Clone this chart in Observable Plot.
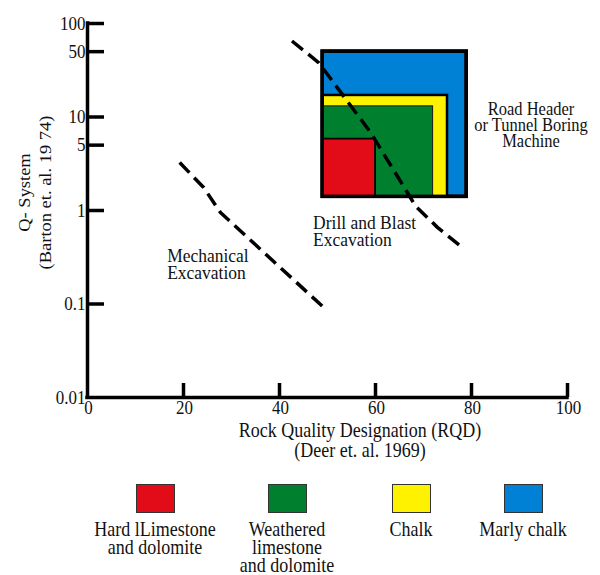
<!DOCTYPE html>
<html><head><meta charset="utf-8">
<script src="https://cdn.jsdelivr.net/npm/d3@7"></script>
<script src="https://cdn.jsdelivr.net/npm/@observablehq/plot@0.6"></script>
<style>
body{margin:0;background:#fff;}
#wrap{position:relative;width:600px;height:575px;font-family:"Liberation Serif","Times New Roman",serif;color:#111;}
#chart svg{display:block;}
#legend{position:relative;width:600px;height:105px;}
.item{position:absolute;top:0;width:170px;text-align:center;}
.sw{width:37px;height:27px;border:1px solid #333;margin:14px auto 0;}
.lab{margin-top:7px;font-size:18px;line-height:16px;white-space:pre-line;transform:scaleY(1.12);transform-origin:50% 0;}
</style></head><body>
<div id="wrap"><div id="chart"></div><div id="legend"></div></div>
<script>
// ---- data ----
const rockTypes = ["Marly chalk", "Chalk", "Weathered limestone and dolomite", "Hard lLimestone and dolomite"];
const rockColors = ["#0081d5", "#fff200", "#00802f", "#e20b18"];
const boxRQDmin = [49, 49, 49, 49];
const boxRQDmax = [79, 75, 72, 60];
const boxQmin = [1.4, 1.4, 1.4, 1.4];
const boxQmax = [50, 17, 13, 5.8];

const mechRQD = [19.2, 24.2, 27.7, 49.6];
const mechQ = [3.26, 1.76, 0.95, 0.088];
const drillRQD = [42.6, 48.2, 59, 67.3, 68.3, 72.9, 78.4];
const drillQ = [65, 38, 6.8, 1.37, 1.12, 0.66, 0.39];

const annoText = ["Mechanical\nExcavation", "Drill and Blast\nExcavation", "Road Header\nor Tunnel Boring\nMachine"];
const annoRQD = [16.6, 47.0, 92.4];
const annoQ = [0.262, 0.59, 8.1];

const xTickLabels = [0, 20, 40, 60, 80, 100];
const xTickMarks = [20, 40, 60, 80, 100];
const yTickLabels = [0.01, 0.1, 1, 5, 10, 50, 100];
const yTickMarks = [0.1, 1, 5, 10, 50, 100];

const xTitle = "Rock Quality Designation (RQD)\n(Deer et. al. 1969)";
const yTitle = "Q- System\n(Barton et. al. 19 74)";

const legendLabels = ["Hard lLimestone\nand dolomite", "Weathered\nlimestone\nand dolomite", "Chalk", "Marly chalk"];
const legendColors = ["#e20b18", "#00802f", "#fff200", "#0081d5"];

// ---- tables ----
const boxStroke = ["black", "black", "#1a1a1a", "black"];
const boxStrokeW = [3.5, 2.5, 1, 1.8];
const boxes = rockTypes.map((t, i) => ({type: t, color: rockColors[i], x1: boxRQDmin[i], x2: boxRQDmax[i], y1: boxQmin[i], y2: boxQmax[i], stroke: boxStroke[i], sw: boxStrokeW[i]}));
const mech = mechRQD.map((x, i) => ({x, y: mechQ[i]}));
const drill = drillRQD.map((x, i) => ({x, y: drillQ[i]}));
const annos = annoText.map((t, i) => ({text: t, x: annoRQD[i], y: annoQ[i]}));

// ---- layout ----
const W = 600, H = 470, mT = 23, mB = 73, mL = 87, mR = 33;
const frameH = H - mT - mB, frameW = W - mL - mR;
const S = 1.12; // vertical glyph stretch of the reference typeface
const dash = {stroke: "black", strokeWidth: 3.5, strokeDasharray: "14,7", strokeLinecap: "butt", curve: "linear"};

const chart = Plot.plot({
  width: W, height: H, marginTop: mT, marginBottom: mB, marginLeft: mL, marginRight: mR,
  style: {fontFamily: "Liberation Serif, Times New Roman, serif", fontSize: "17px", background: "white", color: "#111"},
  x: {domain: [0, 100], axis: null},
  y: {type: "log", domain: [0.01, 100], axis: null},
  color: {type: "identity"},
  marks: [
    Plot.rect(boxes, {x1: "x1", x2: "x2", y1: "y1", y2: "y2", fill: "color", stroke: "stroke", strokeWidth: "sw"}),
    Plot.rect(boxes.slice(0, 1), {x1: "x1", x2: "x2", y1: "y1", y2: "y2", fill: "none", stroke: "black", strokeWidth: 3.5}),
    Plot.line(mech, {x: "x", y: "y", ...dash}),
    Plot.line(drill, {x: "x", y: "y", ...dash}),
    Plot.text(annos.slice(0, 2), {x: "x", y: "y", text: "text", textAnchor: "start", lineAnchor: "middle", lineHeight: 0.9, fontSize: 17.5, fill: "#111"}),
    Plot.text(annos.slice(2), {x: "x", y: "y", text: "text", textAnchor: "middle", lineAnchor: "middle", lineHeight: 0.86, fontSize: 16.5, fill: "#111"}),
    Plot.ruleY([0.01], {x1: 0, x2: 100, stroke: "black", strokeWidth: 3.5, strokeLinecap: "square"}),
    Plot.ruleX([0], {y1: 0.01, y2: 100, stroke: "black", strokeWidth: 3.5, strokeLinecap: "square"}),
    Plot.tickX(xTickMarks, {x: d => d, insetTop: frameH - 14, stroke: "black", strokeWidth: 3.5}),
    Plot.tickY(yTickMarks, {y: d => d, insetRight: frameW - 17, stroke: "black", strokeWidth: 3.5}),
    Plot.text(xTickLabels, {x: d => d, text: d => String(d), frameAnchor: "bottom", lineAnchor: "top", dx: 1, dy: 3, fontSize: 17, fill: "#111"}),
    Plot.text(yTickLabels, {y: d => d, text: d => String(d), frameAnchor: "left", textAnchor: "end", lineAnchor: "middle", dx: -2, fontSize: 17, fill: "#111"}),
    Plot.text([xTitle], {text: d => d, frameAnchor: "bottom", dx: 32.5, dy: 43.3, fontSize: 18, lineHeight: 0.96, lineAnchor: "middle", textAnchor: "middle", fill: "#111"}),
    Plot.text([yTitle], {text: d => d, frameAnchor: "left", rotate: -90, dx: -53.75, dy: -18, fontSize: 16.5, lineHeight: 1.3, lineAnchor: "middle", textAnchor: "middle", fill: "#111"})
  ]
});
// stretch glyphs vertically (in screen space) like the reference's tall serif type
chart.querySelectorAll("text").forEach(t => {
  const tr = t.getAttribute("transform");
  if (!tr) return;
  t.setAttribute("transform", tr + (tr.includes("rotate") ? ` scale(${S},1)` : ` scale(1,${S})`));
});
document.getElementById("chart").appendChild(chart);

// ---- legend ----
const legendCenters = [155, 287, 411, 523];
const legend = document.getElementById("legend");
legendLabels.forEach((lab, i) => {
  const item = document.createElement("div");
  item.className = "item";
  item.style.left = (legendCenters[i] - 85) + "px";
  const sw = document.createElement("div");
  sw.className = "sw";
  sw.style.background = legendColors[i];
  const t = document.createElement("div");
  t.className = "lab";
  t.textContent = lab;
  item.appendChild(sw);
  item.appendChild(t);
  legend.appendChild(item);
});
</script>
</body></html>
